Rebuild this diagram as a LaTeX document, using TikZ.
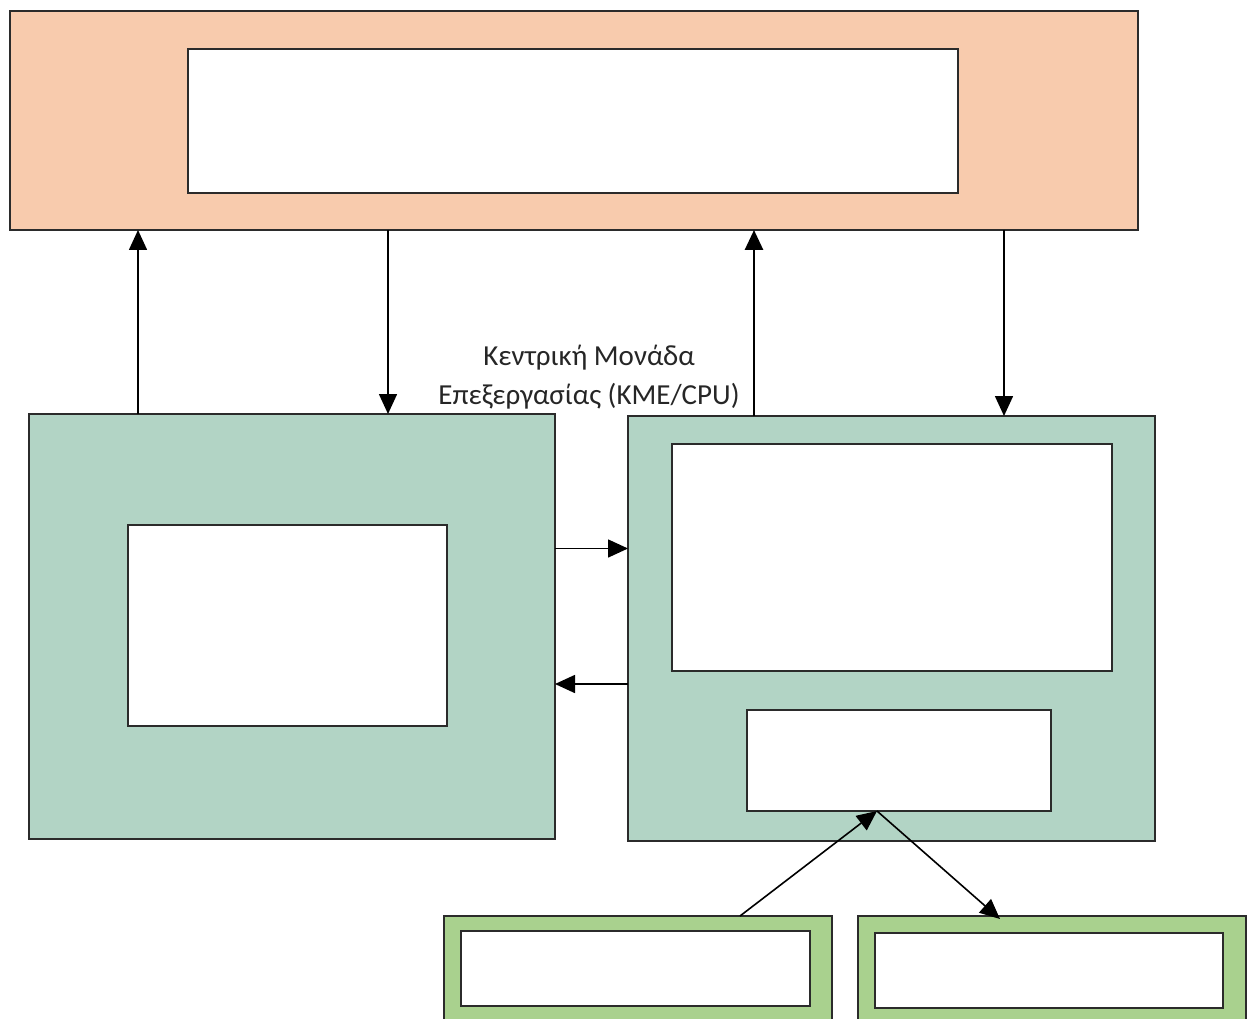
\documentclass[tikz,border=0pt]{standalone}
\usepackage{fontspec}
\setmainfont{Carlito}
\usetikzlibrary{arrows.meta}
\definecolor{orangefill}{HTML}{F8CBAD}
\definecolor{tealfill}{HTML}{B2D4C5}
\definecolor{greenfill}{HTML}{A9D18E}
\definecolor{edge}{HTML}{2B2B2B}
\begin{document}
\begin{tikzpicture}[x=1pt,y=-1pt,
  box/.style={draw=edge,line width=1.8pt,inner sep=0pt,outer sep=0pt,rectangle},
  arr/.style={-{Triangle[length=20pt,width=18pt]},line width=1.6pt,draw=black},
  lbl/.style={font=\fontsize{29}{39}\selectfont,text=black!85,align=center}]
\useasboundingbox (0,0) rectangle (1248,1019);
% memory
\node[box,fill=orangefill,minimum width=1128pt,minimum height=219pt] (mem) at (574,120.5) {};
\node[box,fill=white,minimum width=770pt,minimum height=144pt] (memin) at (573,121) {};
% left unit
\node[box,fill=tealfill,minimum width=526pt,minimum height=425pt] (lu) at (292,626.5) {};
\node[box,fill=white,minimum width=319pt,minimum height=201pt] (luin) at (287.5,625.5) {};
% right unit
\node[box,fill=tealfill,minimum width=527pt,minimum height=425pt] (ru) at (891.5,628.5) {};
\node[box,fill=white,minimum width=440pt,minimum height=227pt] (ruin) at (892,557.5) {};
\node[box,fill=white,minimum width=304pt,minimum height=101pt] (rreg) at (899,760.5) {};
% bottom devices
\node[box,fill=greenfill,minimum width=388pt,minimum height=120pt] (inp) at (638,976) {};
\node[box,fill=white,minimum width=349pt,minimum height=75pt] (inpin) at (635.5,968.5) {};
\node[box,fill=greenfill,minimum width=388pt,minimum height=120pt] (outp) at (1052,976) {};
\node[box,fill=white,minimum width=348pt,minimum height=75pt] (outpin) at (1049,970.5) {};
% label
\node[lbl] (cpu) at (589,377) {Κεντρική Μονάδα\\Επεξεργασίας (ΚΜΕ/CPU)};
% x positions
\coordinate (xa) at (138,0);
\coordinate (xb) at (388,0);
\coordinate (xc) at (754,0);
\coordinate (xd) at (1004,0);
\coordinate (ya) at (0,548.5);
\coordinate (yb) at (0,684);
\coordinate (xe) at (740,0);
\coordinate (xf) at (877,0);
\coordinate (xg) at (1000,0);
% vertical connectors
\draw[arr] (lu.north -| xa) -- (mem.south -| xa);
\draw[arr] (mem.south -| xb) -- (lu.north -| xb);
\draw[arr,line width=2.8pt] (ru.north -| xc) -- (mem.south -| xc);
\draw[arr] (mem.south -| xd) -- (ru.north -| xd);
% horizontal connectors
\draw[arr] (lu.east |- ya) -- (ru.west |- ya);
\draw[arr] (ru.west |- yb) -- (lu.east |- yb);
% diagonal connectors
\draw[arr] (inp.north -| xe) -- (rreg.south -| xf);
\draw[arr] (rreg.south -| xf) -- ([yshift=-3pt]outp.north -| xg);
\end{tikzpicture}
\end{document}
